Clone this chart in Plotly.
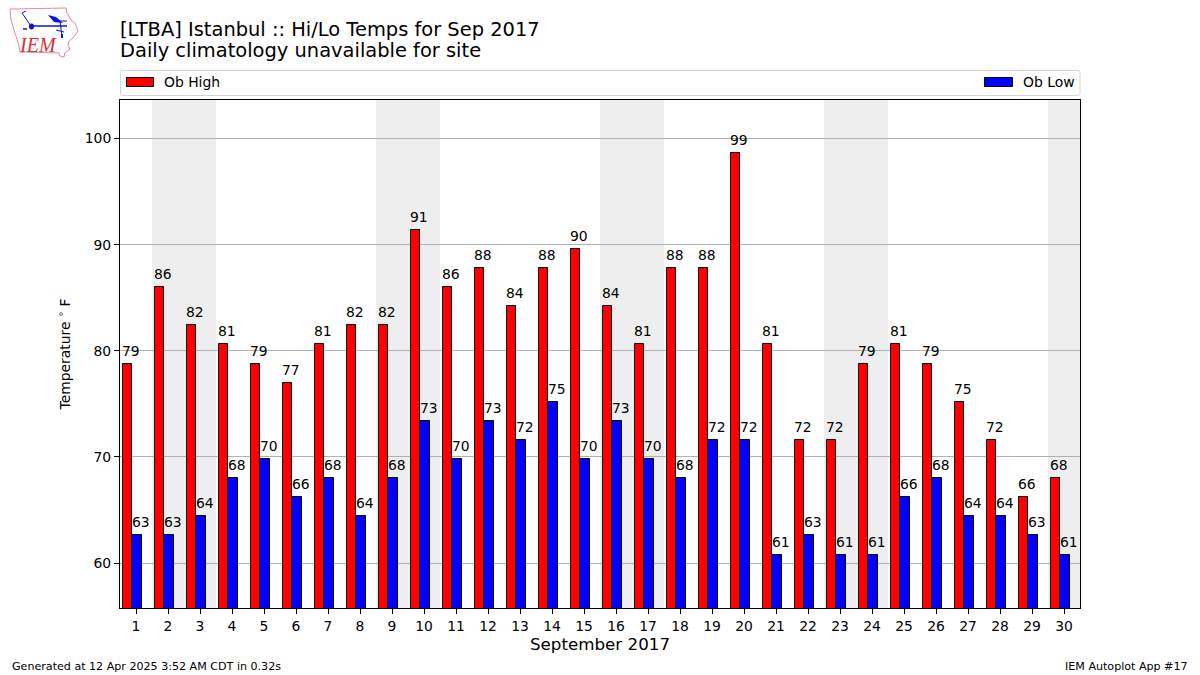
import plotly.graph_objects as go

days = list(range(1, 31))
highs = [78.8, 86, 82.4, 80.6, 78.8, 77, 80.6, 82.4, 82.4, 91.4, 86, 87.8, 84.2, 87.8, 89.6,
         84.2, 80.6, 87.8, 87.8, 98.6, 80.6, 71.6, 71.6, 78.8, 80.6, 78.8, 75.2, 71.6, 66.2, 68]
lows = [62.6, 62.6, 64.4, 68, 69.8, 66.2, 68, 64.4, 68, 73.4, 69.8, 73.4, 71.6, 75.2, 69.8,
        73.4, 69.8, 68, 71.6, 71.6, 60.8, 62.6, 60.8, 60.8, 66.2, 68, 64.4, 64.4, 62.6, 60.8]
weekend_days = [2, 3, 9, 10, 16, 17, 23, 24, 30]
y_ticks = [60, 70, 80, 90, 100]

W, H = 1200, 675
L, R, T, B = 120, 1080, 100, 608
FONT = "DejaVu Sans"


def px(x):
    return (x - L) / (R - L)


def py(y):
    return (B - y) / (B - T)


def label(v):
    return str(int(v + 0.5))


fig = go.Figure()
fig.add_bar(x=[d - 0.27 for d in days], y=highs, width=0.3, name="Ob High",
            marker=dict(color="#ff0000", line=dict(color="black", width=1)), showlegend=False)
fig.add_bar(x=[d + 0.03 for d in days], y=lows, width=0.3, name="Ob Low",
            marker=dict(color="#0000ff", line=dict(color="black", width=1)), showlegend=False)

shapes = [dict(type="rect", xref="x", yref="paper", x0=d - 0.5, x1=d + 0.5, y0=0, y1=1,
               fillcolor="#eeeeee", line_width=0, layer="below") for d in weekend_days]


def path_shape(points, color=None, fill=None, width=1, close=False):
    d = "M" + " L".join(f"{px(x):.5f},{py(y):.5f}" for x, y in points)
    if close:
        d += " Z"
    return dict(type="path", xref="paper", yref="paper", path=d,
                line=dict(color=color or "rgba(0,0,0,0)", width=width),
                fillcolor=fill or "rgba(0,0,0,0)")


def rounded(x0, y0, x1, y1, r=2):
    return (f"M{px(x0+r):.5f},{py(y0):.5f} L{px(x1-r):.5f},{py(y0):.5f} "
            f"Q{px(x1):.5f},{py(y0):.5f} {px(x1):.5f},{py(y0+r):.5f} "
            f"L{px(x1):.5f},{py(y1-r):.5f} Q{px(x1):.5f},{py(y1):.5f} {px(x1-r):.5f},{py(y1):.5f} "
            f"L{px(x0+r):.5f},{py(y1):.5f} Q{px(x0):.5f},{py(y1):.5f} {px(x0):.5f},{py(y1-r):.5f} "
            f"L{px(x0):.5f},{py(y0+r):.5f} Q{px(x0):.5f},{py(y0):.5f} {px(x0+r):.5f},{py(y0):.5f} Z")


# legend frame and swatches
shapes.append(dict(type="path", xref="paper", yref="paper", path=rounded(120.5, 70.5, 1080, 95.5),
                   line=dict(color="#d5d5d5", width=1), fillcolor="white"))
for x0, x1, c in [(126.5, 153.5, "#ff0000"), (984.5, 1012.5, "#0000ff")]:
    shapes.append(dict(type="rect", xref="paper", yref="paper", x0=px(x0), x1=px(x1),
                       y0=py(86.5), y1=py(77.5), fillcolor=c, line=dict(color="black", width=1)))

# logo: state outline and station glyph
outline = [(14, 9), (66, 8), (67, 13), (71, 20), (75, 23), (78, 31), (73, 38), (69, 41), (68, 46),
           (70, 49), (65, 53), (64, 57), (60, 56), (59, 53), (20, 52), (18, 42), (14, 30), (11, 20), (10, 9)]
shapes.append(path_shape(outline, color="#e58a92", width=1, close=True))
blue = "#1010e0"
shapes.append(path_shape([(31, 26), (67, 26)], color=blue, width=1.5))
shapes.append(path_shape([(31, 26), (22, 13)], color=blue, width=1))
shapes.append(path_shape([(22, 13), (26, 11)], color=blue, width=1))
shapes.append(path_shape([(48, 15), (56, 17), (63, 23), (54, 22)], fill=blue, close=True))
shapes.append(path_shape([(56, 21), (67, 21)], color=blue, width=1))
shapes.append(path_shape([(60, 21), (62, 37)], color=blue, width=1))
shapes.append(path_shape([(56, 30), (64, 32)], color=blue, width=1))
shapes.append(path_shape([(62, 34), (62, 38)], color=blue, width=2))
shapes.append(dict(type="circle", xref="paper", yref="paper", x0=px(29), x1=px(34), y0=py(29.5), y1=py(23.5),
                   fillcolor=blue, line_width=0))
shapes.append(path_shape([(23, 29), (27, 29)], color=blue, width=1.5))

annotations = [
    dict(text="[LTBA] Istanbul :: Hi/Lo Temps for Sep 2017", x=px(118), y=py(29), size=19.44, anchor="left"),
    dict(text="Daily climatology unavailable for site", x=px(118), y=py(50.5), size=19.44, anchor="left"),
    dict(text="Ob High", x=px(162), y=py(82), size=13.9, anchor="left"),
    dict(text="Ob Low", x=px(1021), y=py(82), size=13.9, anchor="left"),
    dict(text="Generated at 12 Apr 2025 3:52 AM CDT in 0.32s", x=px(9.5), y=py(666), size=11.1, anchor="left"),
    dict(text="IEM Autoplot App #17", x=px(1190), y=py(666), size=11.1, anchor="right"),
]
ann = [dict(text=a["text"], x=a["x"], y=a["y"], xref="paper", yref="paper", xanchor=a["anchor"], yanchor="middle",
            showarrow=False, font=dict(family=FONT, size=a["size"], color="black")) for a in annotations]
ann.append(dict(text="<i>IEM</i>", x=px(38), y=py(45), xref="paper", yref="paper", xanchor="center", yanchor="middle",
                showarrow=False, font=dict(family="Liberation Serif", size=20, color="#d8303c")))
for offset, series in [(-0.15, highs), (0.15, lows)]:
    for d, v in zip(days, series):
        ann.append(dict(text=label(v), x=d + offset, y=v, xref="x", yref="y", xanchor="center", yanchor="bottom",
                        yshift=3, showarrow=False, font=dict(family=FONT, size=13.9, color="black")))

fig.update_layout(
    width=W, height=H, autosize=False,
    margin=dict(l=L, r=W - R, t=T, b=H - B, pad=0),
    paper_bgcolor="white", plot_bgcolor="white",
    barmode="overlay", bargap=0,
    font=dict(family=FONT, size=13.9, color="black"),
    shapes=shapes, annotations=ann, showlegend=False,
    xaxis=dict(range=[0.5, 30.5], tickmode="array", tickvals=days, ticktext=[str(d) for d in days],
               ticks="outside", ticklen=5, tickwidth=1, tickcolor="black", showgrid=False, zeroline=False,
               showline=True, linecolor="black", linewidth=1, mirror=True,
               title=dict(text="September 2017", font=dict(family=FONT, size=16.7), standoff=5),
               tickfont=dict(family=FONT, size=13.9)),
    yaxis=dict(range=[55.76, 103.63], tickmode="array", tickvals=y_ticks, ticks="outside", ticklen=5, tickwidth=1,
               tickcolor="black", showgrid=True, gridcolor="#b0b0b0", gridwidth=1, zeroline=False,
               showline=True, linecolor="black", linewidth=1, mirror=True,
               title=dict(text="Temperature <sup>∘</sup> F", font=dict(family=FONT, size=13.9), standoff=10),
               tickfont=dict(family=FONT, size=13.9)),
)
fig.write_html("out.html", config=dict(displayModeBar=False),
               post_script="document.body.style.margin='0';document.body.style.overflow='hidden';")
